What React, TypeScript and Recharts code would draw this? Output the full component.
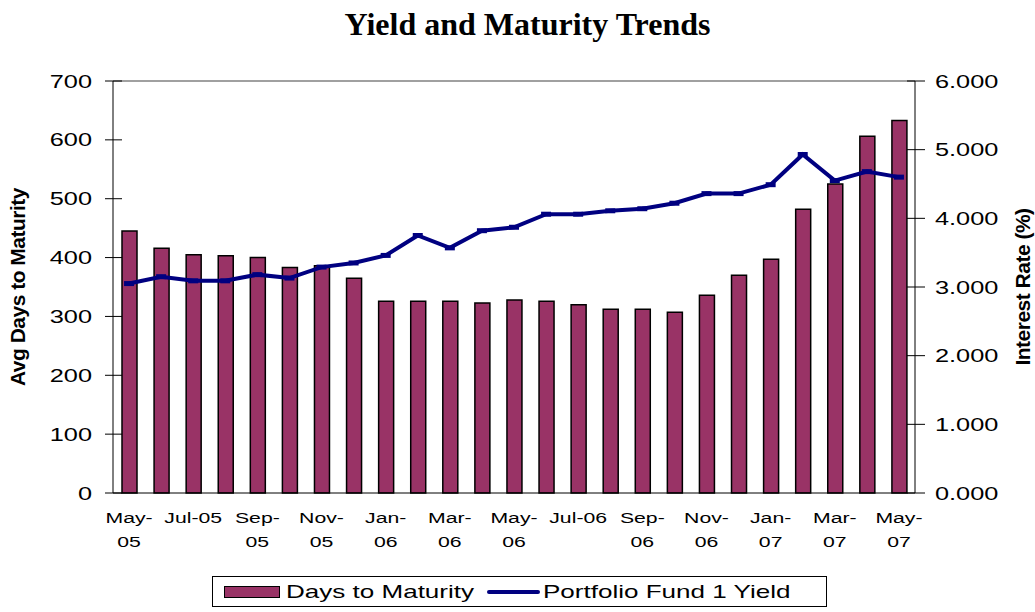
import { Bar, ComposedChart, Line, ReferenceLine, XAxis, YAxis } from "recharts";

const months = [
  "May-05", "Jun-05", "Jul-05", "Aug-05", "Sep-05", "Oct-05", "Nov-05", "Dec-05",
  "Jan-06", "Feb-06", "Mar-06", "Apr-06", "May-06", "Jun-06", "Jul-06", "Aug-06",
  "Sep-06", "Oct-06", "Nov-06", "Dec-06", "Jan-07", "Feb-07", "Mar-07", "Apr-07", "May-07",
];
const daysToMaturity = [
  445, 416, 405, 403, 400, 383, 386, 365, 326, 326, 326, 323, 328,
  326, 320, 312, 312, 307, 336, 370, 397, 482, 525, 606, 633,
];
const fundYield = [
  3.05, 3.15, 3.09, 3.09, 3.18, 3.13, 3.29, 3.35, 3.46, 3.75, 3.57, 3.82, 3.87,
  4.06, 4.06, 4.11, 4.14, 4.22, 4.36, 4.36, 4.49, 4.93, 4.55, 4.68, 4.6,
];
const dayTicks = [0, 100, 200, 300, 400, 500, 600, 700];
const rateTicks = [0, 1, 2, 3, 4, 5, 6];
// these fit on one line in the original, the rest wrap after the dash
const oneLineLabels = ["Jul-05", "Jul-06"];

const data = months.map((month, i) => ({
  month,
  days: daysToMaturity[i],
  rate: fundYield[i],
}));
const edgeTicks = [...months.map((_, i) => i), months.length];

const BAR_COLOR = "#993366";
const LINE_COLOR = "#000080";
const FONT = "'Liberation Sans', Arial, sans-serif";
// the original's sans text is drawn noticeably wider than Arial
const STRETCH = 1.37;

function LeftTick({ x, y, payload }: any) {
  const axisX = x + 8 + 13;
  return (
    <g>
      <line x1={axisX - 8} x2={axisX + 9} y1={y} y2={y} stroke="#000" />
      <g transform={`translate(${x},${y})`}>
        <text textAnchor="end" dy="0.355em" fontSize={18.5} fill="#000" transform={`scale(${STRETCH},1)`}>
          {payload.value}
        </text>
      </g>
    </g>
  );
}

function RightTick({ x, y, payload }: any) {
  const axisX = x - 10 - 10;
  return (
    <g>
      <line x1={axisX - 8} x2={axisX + 10} y1={y} y2={y} stroke="#000" />
      <g transform={`translate(${x},${y})`}>
        <text textAnchor="start" dy="0.355em" fontSize={18.5} fill="#000" transform={`scale(${STRETCH},1)`}>
          {Number(payload.value).toFixed(3)}
        </text>
      </g>
    </g>
  );
}

function MonthTick({ x, y, payload }: any) {
  const label = String(payload.value);
  const lines = oneLineLabels.includes(label) ? [label] : [label.slice(0, 4), label.slice(4)];
  return (
    <g transform={`translate(${x},${y})`}>
      {lines.map((line, i) => (
        <text
          key={i}
          y={29 + i * 24}
          textAnchor="middle"
          fontSize={15.5}
          fill="#000"
          transform={`scale(${STRETCH},1)`}
        >
          {line}
        </text>
      ))}
    </g>
  );
}

const stretched = (text: string, width: number) => (
  <span style={{ width, whiteSpace: "nowrap" }}>
    <span style={{ display: "inline-block", transform: `scaleX(${STRETCH})`, transformOrigin: "left" }}>
      {text}
    </span>
  </span>
);

export default function App() {
  return (
    <div style={{ position: "absolute", left: 0, top: 0, width: 1035, height: 612, background: "#fff", fontFamily: FONT }}>
      <div
        style={{
          position: "absolute",
          left: 10,
          top: 8,
          width: 1035,
          textAlign: "center",
          fontFamily: "'Liberation Serif', 'Times New Roman', serif",
          fontWeight: "bold",
          fontSize: 32,
          lineHeight: "32px",
        }}
      >
        Yield and Maturity Trends
      </div>

      <ComposedChart
        width={1035}
        height={612}
        data={data}
        margin={{ top: 81, right: 0, left: 0, bottom: 48 }}
        style={{ position: "absolute", left: 0, top: 0 }}
      >
        {/* tick marks sit between the categories, so they get their own axis */}
        <XAxis
          xAxisId="edges"
          type="number"
          domain={[0, months.length]}
          allowDataOverflow
          ticks={edgeTicks}
          tick={false}
          tickSize={6}
          height={1}
          axisLine={{ stroke: "#000" }}
          tickLine={{ stroke: "#000" }}
        />
        <XAxis
          xAxisId="months"
          dataKey="month"
          height={70}
          interval={1}
          axisLine={false}
          tickLine={false}
          tickSize={0}
          tickMargin={0}
          tick={(props: any) => <MonthTick {...props} />}
        />
        <YAxis
          yAxisId="left"
          width={113}
          domain={[0, 700]}
          ticks={dayTicks}
          tickSize={8}
          tickMargin={13}
          tickLine={false}
          axisLine={{ stroke: "#000" }}
          tick={(props: any) => <LeftTick {...props} />}
          label={{
            value: "Avg Days to Maturity",
            angle: -90,
            position: "insideLeft",
            offset: 18,
            style: { textAnchor: "middle", fontWeight: "bold", fontSize: 21, fill: "#000", letterSpacing: -0.5, fontFamily: FONT },
          }}
        />
        <YAxis
          yAxisId="right"
          orientation="right"
          width={120}
          domain={[0, 6]}
          ticks={rateTicks}
          tickSize={10}
          tickMargin={10}
          tickLine={false}
          axisLine={{ stroke: "#000" }}
          tick={(props: any) => <RightTick {...props} />}
          label={{
            value: "Interest Rate (%)",
            angle: -90,
            position: "insideRight",
            offset: 12,
            style: { textAnchor: "middle", fontWeight: "bold", fontSize: 21, fill: "#000", letterSpacing: -0.5, fontFamily: FONT },
          }}
        />

        <ReferenceLine xAxisId="months" yAxisId="left" y={700} stroke="#808080" strokeWidth={1.5} />

        <Bar
          xAxisId="months"
          yAxisId="left"
          dataKey="days"
          fill={BAR_COLOR}
          stroke="#000"
          strokeWidth={1.5}
          barSize={15}
          isAnimationActive={false}
        />
        <Line
          xAxisId="months"
          yAxisId="right"
          dataKey="rate"
          stroke={LINE_COLOR}
          strokeWidth={4}
          type="linear"
          dot={(p: any) => (
            <line key={`dot-${p.index}`} x1={p.cx - 5} x2={p.cx + 5} y1={p.cy} y2={p.cy} stroke={LINE_COLOR} strokeWidth={5} />
          )}
          activeDot={false}
          isAnimationActive={false}
        />
      </ComposedChart>

      {/* Legend */}
      <div
        style={{
          position: "absolute",
          left: 212,
          top: 576,
          width: 613,
          height: 29,
          border: "1px solid #000",
          display: "flex",
          alignItems: "center",
          fontSize: 19,
          color: "#000",
          background: "#fff",
        }}
      >
        <span style={{ marginLeft: 11, width: 54, height: 10, background: BAR_COLOR, border: "1px solid #000" }} />
        <span style={{ width: 6 }} />
        {stretched("Days to Maturity", 201)}
        <span style={{ width: 53, height: 4, background: LINE_COLOR, borderRadius: 2 }} />
        <span style={{ width: 3 }} />
        {stretched("Portfolio Fund 1 Yield", 260)}
      </div>
    </div>
  );
}
